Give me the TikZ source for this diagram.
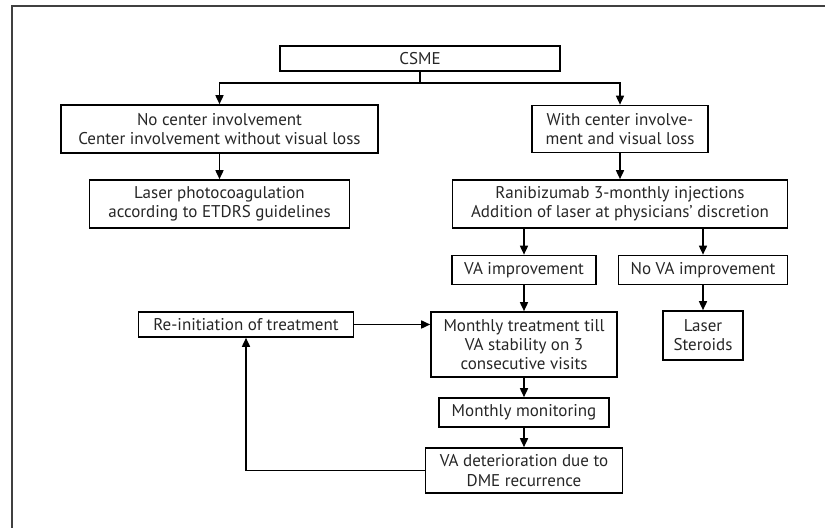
\documentclass[tikz,border=0pt]{standalone}
\usepackage{fontspec}
\setmainfont{PT Sans}
\usetikzlibrary{positioning, arrows.meta, calc}

\begin{document}
\begin{tikzpicture}[x=0.5pt, y=-0.5pt,
  box/.style={draw, line width=0.8pt, align=center, inner sep=1pt, text=black!85,
    font=\fontsize{8.5}{9.6}\selectfont},
  flow/.style={-{Triangle[length=4.5pt, width=4pt]}, line width=0.8pt},
]
  \useasboundingbox (0,0) rectangle (825,528);
  \draw[line width=1pt, black!75] (12,528) -- (12,6) -- (825,6);

  \node[box, minimum width=140pt, minimum height=12.5pt] (csme) at (420,58.5) {CSME};
  \node[box, minimum width=158.5pt, minimum height=24pt] (nocenter) at (219.5,129)
    {No center involvement\\Center involvement without visual loss};
  \node[box, minimum width=130pt, minimum height=24pt] (laser) at (219.5,204)
    {Laser photocoagulation\\according to ETDRS guidelines};
  \node[box, minimum width=88pt, minimum height=23.5pt] (withcenter) at (620,129)
    {With center involve-\\ment and visual loss};
  \node[box, minimum width=167.5pt, minimum height=24pt] (ranib) at (620,204)
    {Ranibizumab 3-monthly injections\\Addition of laser at physicians' discretion};
  \node[box, minimum width=72pt, minimum height=14.5pt] (vaimp) at (524,270) {VA improvement};
  \node[box, minimum width=84.5pt, minimum height=14.5pt] (novaimp) at (703,270) {No VA improvement};
  \node[box, minimum width=93pt, minimum height=32.5pt] (monthly) at (524,344.5)
    {Monthly treatment till\\VA stability on 3\\consecutive visits};
  \node[box, minimum width=40pt, minimum height=24.5pt] (steroids) at (703,335.5) {Laser\\Steroids};
  \node[box, minimum width=85pt, minimum height=14.5pt] (monitor) at (524,412.5) {Monthly monitoring};
  \node[box, minimum width=98.5pt, minimum height=22.5pt] (deterior) at (524,470.5)
    {VA deterioration due to\\DME recurrence};
  \node[box, minimum width=107.5pt, minimum height=12.5pt] (reinit) at (246,324.5)
    {Re-initiation of treatment};

  % branches
  \coordinate (split) at (420,83);
  \draw[line width=0.8pt] (csme) -- (split);
  \draw[flow] (split) -| (nocenter);
  \draw[flow] (split) -| (withcenter);
  \draw[flow] (nocenter) -- (laser);
  \draw[flow] (withcenter) -- (ranib);
  \draw[flow] (vaimp.north |- ranib.south) -- (vaimp);
  \draw[flow] (novaimp.north |- ranib.south) -- (novaimp);
  \draw[flow] (novaimp) -- (steroids);

  % main chain
  \draw[flow] (vaimp) -- (monthly);
  \draw[flow] (monthly) -- (monitor);
  \draw[flow] (monitor) -- (deterior);

  % loop back
  \draw[flow] (deterior) -| (reinit);
  \draw[flow] (reinit.east) -- (reinit.east -| monthly.west);
\end{tikzpicture}
\end{document}
